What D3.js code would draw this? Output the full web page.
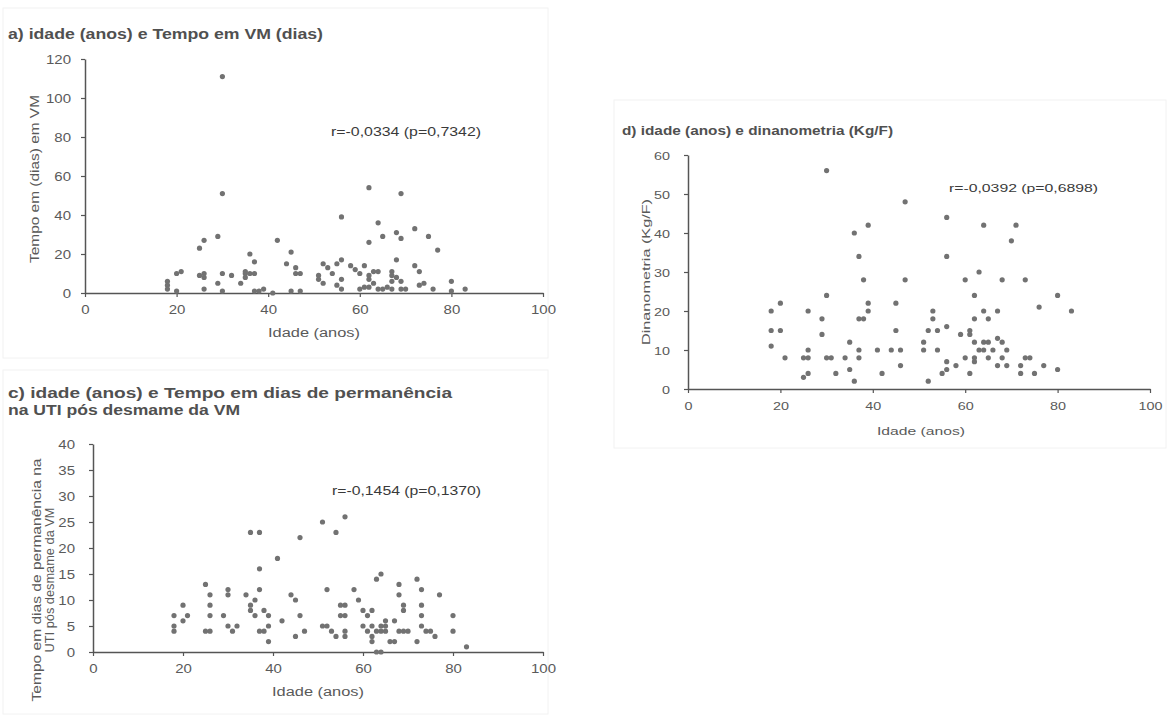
<!DOCTYPE html>
<html>
<head>
<meta charset="utf-8">
<script src="https://cdn.jsdelivr.net/npm/d3@7"></script>
<style>
  body { margin: 0; background: #fff; }
  svg { display: block; }
  text { font-family: "Liberation Sans", Arial, sans-serif; }
</style>
</head>
<body>
<svg></svg>
<script>
// dados (idade em anos x variável)
const ticksIdade = [0, 20, 40, 60, 80, 100];

// a) idade x tempo em VM (dias)
const idadeA = [30,30,62,69,56,64,72,68,69,65,75,62,77,29,26,25,42,45,36,37,44,46,46,47,52,53,54,55,56,58,59,60,61,62,62,63,64,67,67,68,69,72,73,73,74,80,83,80,76,51,51,52,56,55,56,60,61,63,62,64,65,66,67,67,69,70,68,18,18,18,20,21,20,25,26,26,26,29,30,30,32,34,35,35,36,37,35,37,38,39,41,45,47];
const tempoVM = [111,51,54,51,39,36,33,31,28,29,29,26,22,29,27,23,27,21,20,16,15,13,10,10,15,13,10,15,17,14,12,10,14,9,7,11,11,11,9,17,6,14,11,4,5,6,2,1,2,9,7,5,7,4,2,2,3,5,3,2,2,3,2,6,2,2,8,6,4,2,10,11,1,9,10,8,2,5,10,1,9,5,10,11,10,10,8,1,1,2,0,1,1];

// c) idade x tempo de permanência na UTI pós desmame
const idadeC = [18,18,18,20,20,21,25,25,26,26,26,26,29,30,30,30,31,32,34,35,37,37,37,36,35,35,36,38,39,37,38,39,39,41,42,44,45,45,46,46,47,51,52,51,52,53,54,54,56,55,56,55,56,56,56,58,59,60,61,62,60,61,62,62,62,63,64,63,64,64,63,64,65,65,65,66,67,67,68,68,69,69,68,69,70,72,73,73,73,73,74,75,76,72,77,80,80,83];
const tempoUTI = [7,5,4,9,6,7,13,4,4,11,9,7,7,12,11,5,4,5,11,23,23,16,12,10,9,8,7,8,7,4,4,5,2,18,6,11,10,3,22,7,4,25,12,5,5,4,3,23,26,9,9,7,7,4,3,12,10,8,7,8,5,4,5,3,2,14,15,4,4,5,0,0,6,5,4,2,2,6,13,11,9,8,4,4,4,14,12,9,7,5,4,4,3,2,11,7,4,1];

// d) idade x dinamometria (Kg/F)
const idadeD = [18,20,18,20,18,21,25,26,26,26,25,26,30,29,29,30,31,32,34,35,35,36,37,37,37,38,38,39,39,41,42,44,45,45,46,46,47,51,51,52,53,53,52,54,54,55,56,56,56,58,59,60,60,61,61,61,62,62,62,62,62,63,63,64,64,64,65,65,65,66,67,67,68,67,68,68,69,69,72,72,73,74,73,75,76,77,80,80,83,30,47,39,36,37,56,56,64,71,70];
const dinamometria = [20,22,15,15,11,8,8,8,20,10,3,4,24,18,14,8,8,4,8,12,5,2,10,8,18,18,28,20,22,10,4,10,22,15,10,6,28,12,10,2,20,18,15,15,10,4,5,16,7,6,14,28,8,15,14,4,24,18,12,8,7,30,10,10,20,12,12,18,8,10,20,13,12,6,28,8,10,6,6,4,8,8,28,4,21,6,24,5,20,56,48,42,40,34,44,34,42,42,38];

const width = 1167, height = 716;
const svg = d3.select("svg").attr("width", width).attr("height", height);

// a figura original é um recorte esticado na horizontal
const esticar = 1.25;

const panels = [
  {
    box: [3, 8, 548, 358],
    titulo: ["a) idade (anos) e Tempo em VM (dias)"], tituloLen: [315],
    tituloX: 8, tituloY: 39, tituloSize: 14,
    x: [85, 543], y: [293, 59], yMax: 120, yStep: 20, fonte: 12, tickDx: 14,
    yLabel: ["Tempo em (dias) em VM"], yLabelLen: [168], yLabelX: 39, yLabelC: 179,
    xLabelY: 337, xLabelLen: 92, xLabelDx: 0,
    r: "r=-0,0334 (p=0,7342)", rX: 331, rY: 136, rLen: 150,
    xs: idadeA, ys: tempoVM
  },
  {
    box: [3, 370, 548, 714],
    titulo: ["c) idade (anos) e Tempo em dias de permanência", "na UTI pós desmame da VM"],
    tituloLen: [444, 232],
    tituloX: 8, tituloY: 398, tituloSize: 14.5,
    x: [93, 543], y: [652, 444], yMax: 40, yStep: 5, fonte: 12, tickDx: 18,
    yLabel: ["Tempo em dias de permanência na", "UTI pós desmame da VM"], yLabelLen: [243, 145],
    yLabelX: 41, yLabelC: 580,
    xLabelY: 696, xLabelLen: 92, xLabelDx: 0,
    r: "r=-0,1454 (p=0,1370)", rX: 332, rY: 495, rLen: 149,
    xs: idadeC, ys: tempoUTI
  },
  {
    box: [614, 100, 1166, 448],
    titulo: ["d) idade (anos) e dinanometria (Kg/F)"], tituloLen: [271],
    tituloX: 622, tituloY: 135, tituloSize: 13,
    x: [688, 1150], y: [389, 155], yMax: 60, yStep: 10, fonte: 11.5, tickDx: 18,
    yLabel: ["Dinanometria (Kg/F)"], yLabelLen: [146], yLabelX: 650, yLabelC: 272,
    xLabelY: 435, xLabelLen: 88, xLabelDx: 2,
    r: "r=-0,0392 (p=0,6898)", rX: 949, rY: 192, rLen: 149,
    xs: idadeD, ys: dinamometria
  }
];

panels.forEach(p => {
  const g = svg.append("g");

  // moldura clara do recorte
  g.append("rect")
    .attr("x", p.box[0]).attr("y", p.box[1])
    .attr("width", p.box[2] - p.box[0]).attr("height", p.box[3] - p.box[1])
    .attr("fill", "none").attr("stroke", "#f2f2f2");

  const x = d3.scaleLinear().domain([0, 100]).range(p.x);
  const y = d3.scaleLinear().domain([0, p.yMax]).range(p.y);

  p.titulo.forEach((t, i) => {
    g.append("text")
      .attr("x", p.tituloX).attr("y", p.tituloY + i * 17)
      .attr("font-size", p.tituloSize).attr("font-weight", "bold")
      .attr("fill", "#505050")
      .attr("textLength", p.tituloLen[i]).attr("lengthAdjust", "spacingAndGlyphs")
      .text(t);
  });

  const xAxis = g.append("g")
    .attr("transform", `translate(0,${p.y[0]})`)
    .call(d3.axisBottom(x).tickValues(ticksIdade).tickSize(4).tickSizeOuter(0));
  const yAxis = g.append("g")
    .attr("transform", `translate(${p.x[0]},0)`)
    .call(d3.axisLeft(y).tickValues(d3.range(0, p.yMax + 1, p.yStep)).tickSize(4).tickSizeOuter(0));

  [xAxis, yAxis].forEach(a => {
    a.selectAll("path").attr("stroke", "#555").attr("stroke-width", 1.5);
    a.selectAll("line").attr("stroke", "#555").attr("stroke-width", 1.2);
    a.selectAll("text").attr("fill", "#5a5a5a").attr("font-size", p.fonte)
      .attr("font-family", '"Liberation Sans", Arial, sans-serif');
  });
  // rótulos dos ticks esticados como na imagem original
  xAxis.selectAll(".tick text")
    .attr("y", 0).attr("dy", 0)
    .attr("transform", `translate(0,${p.fonte + 9}) scale(${esticar},1)`);
  yAxis.selectAll(".tick text")
    .attr("x", 0).attr("dy", "0.35em")
    .attr("transform", `translate(-${p.tickDx},0) scale(${esticar},1)`);

  g.append("text")
    .attr("x", (p.x[0] + p.x[1]) / 2 - 0.5 * p.xLabelLen + p.xLabelDx).attr("y", p.xLabelY)
    .attr("font-size", p.fonte).attr("fill", "#5a5a5a")
    .attr("textLength", p.xLabelLen).attr("lengthAdjust", "spacingAndGlyphs")
    .text("Idade (anos)");

  p.yLabel.forEach((t, i) => {
    const lx = p.yLabelX + i * 13;
    g.append("text")
      .attr("transform", `translate(${lx},${p.yLabelC}) rotate(-90)`)
      .attr("x", -p.yLabelLen[i] / 2)
      .attr("font-size", p.fonte).attr("fill", "#5a5a5a")
      .attr("textLength", p.yLabelLen[i]).attr("lengthAdjust", "spacingAndGlyphs")
      .text(t);
  });

  g.append("text")
    .attr("x", p.rX).attr("y", p.rY)
    .attr("font-size", p.fonte).attr("fill", "#3a3a3a")
    .attr("textLength", p.rLen).attr("lengthAdjust", "spacingAndGlyphs")
    .text(p.r);

  g.append("g").selectAll("circle")
    .data(p.xs.map((v, i) => [v, p.ys[i]]))
    .join("circle")
    .attr("cx", d => x(d[0]))
    .attr("cy", d => y(d[1]))
    .attr("r", 2.6)
    .attr("fill", "#727272");
});
</script>
</body>
</html>
